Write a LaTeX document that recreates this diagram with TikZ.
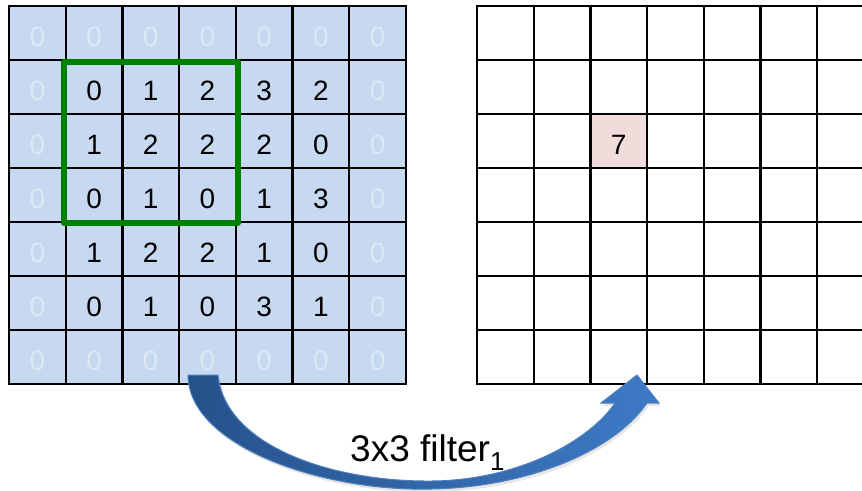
\documentclass[tikz,border=0pt]{standalone}
\usepackage{fontspec}
\setmainfont{Liberation Sans}
\usetikzlibrary{shadows}
\definecolor{inputblue}{RGB}{198,217,241}
\definecolor{padzero}{RGB}{222,232,245}
\definecolor{outpink}{RGB}{242,220,219}
\definecolor{filtergreen}{RGB}{0,128,0}
\definecolor{arrowdark}{RGB}{38,82,138}
\definecolor{arrowlight}{RGB}{62,122,198}
\definecolor{arrowedge}{RGB}{79,129,189}
\tikzset{
  cell/.style={draw=black, line width=2.4pt, minimum width=56.7pt, minimum height=54pt,
    inner sep=0pt, outer sep=0pt, text height=26pt, text depth=0pt,
    font=\fontsize{28}{30}\selectfont},
  incell/.style={cell, fill=inputblue},
  padcell/.style={incell, text=padzero},
  outcell/.style={cell, fill=white},
}
\begin{document}
\begin{tikzpicture}[x=1pt, y=-1pt]
\useasboundingbox (0,0) rectangle (862,490);
\clip (0,0) rectangle (862,490);
% input with zero padding
\foreach \r in {1,...,7}
  \foreach \c in {1,...,7}
    \node[padcell](in-\r-\c) at ({9+56.7*(\c-0.5)}, {6+54*(\r-0.5)}) {0};
\foreach \row [count=\r from 2] in {{0,1,2,3,2},{1,2,2,2,0},{0,1,0,1,3},{1,2,2,1,0},{0,1,0,3,1}}
  \foreach \v [count=\c from 2] in \row
    \node[incell](in-\r-\c) at ({9+56.7*(\c-0.5)}, {6+54*(\r-0.5)}) {\v};
% output map
\foreach \r in {1,...,7}
  \foreach \c in {1,...,7}
    \node[outcell](out-\r-\c) at ({477+56.7*(\c-0.5)}, {6+54*(\r-0.5)}) {};
\node[outcell, fill=outpink](out-3-3) at ({477+56.7*2.5}, {6+54*2.5}) {7};
% receptive field
\draw[filtergreen, line width=6pt, line join=round]
  ([shift={(-2,2)}]in-2-2.north west) rectangle ([shift={(2,1)}]in-4-4.south east);
% curved arrow
\coordinate (tail) at (203,375);
\coordinate (tip) at (637,375);
\draw[arrowedge, line width=1pt, left color=arrowdark, right color=arrowlight,
  drop shadow={opacity=0.2, shadow xshift=2pt, shadow yshift=-3pt}]
  ([xshift=-15]tail) .. controls (188,445) and (320,492) .. (432,489)
  .. controls (530,487) and (615,450) .. (647,403) -- (659,403) -- (tip)
  -- (601,403) -- (615,403) .. controls (590,440) and (520,480) .. (432,481)
  .. controls (330,482) and (225,445) .. ([xshift=15]tail) -- cycle;
\node[anchor=base west, inner sep=0pt, font=\fontsize{37}{40}\selectfont](flabel) at (350,461) {3x3 filter\textsubscript{1}};
\end{tikzpicture}
\end{document}
